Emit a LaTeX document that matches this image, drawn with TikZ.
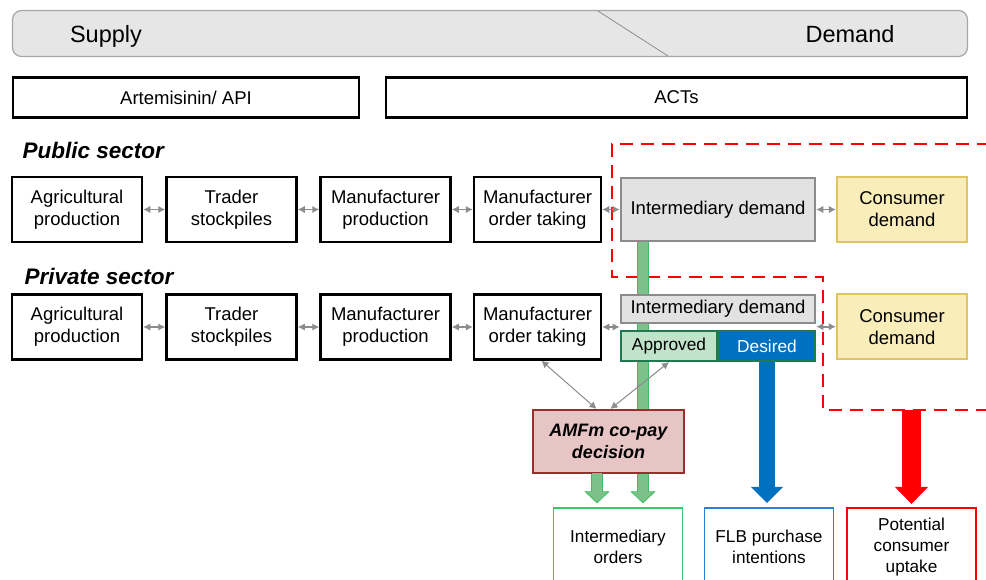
\documentclass[tikz,border=0pt]{standalone}
\usepackage{fontspec}
\setmainfont{Liberation Sans}
\usetikzlibrary{arrows.meta,positioning,backgrounds}
\definecolor{BarFill}   {HTML}{E6E6E6}
\definecolor{BarLine}   {HTML}{A6A6A6}
\definecolor{MidGrey}   {HTML}{8C8C8C}
\definecolor{DemandFill}{HTML}{E2E2E2}
\definecolor{ConsFill}  {HTML}{F9EDBA}
\definecolor{ConsLine}  {HTML}{E0C462}
\definecolor{ApprFill}  {HTML}{C1E3C9}
\definecolor{ApprLine}  {HTML}{1E7A50}
\definecolor{DesBlue}   {HTML}{0070C0}
\definecolor{CopayFill} {HTML}{E8C5C5}
\definecolor{CopayLine} {HTML}{9A2E2A}
\definecolor{GreenFill} {HTML}{7CC08A}
\definecolor{GreenLine} {HTML}{3DBE62}
\definecolor{OrderLine} {HTML}{3CC86A}
\definecolor{FlbLine}   {HTML}{2F7ED6}
\definecolor{UptakeRed} {HTML}{FF0000}

\begin{document}
\begin{tikzpicture}[x=1pt,y=-1pt,
    font=\fontsize{18.5}{22}\selectfont,
    stage/.style={draw=black,line width=2.5pt,minimum width=130pt,minimum height=65pt,align=center,inner sep=2pt},
    idbox/.style={draw=MidGrey,fill=DemandFill,line width=2.6pt,minimum width=194pt,inner sep=2pt},
    consbox/.style={draw=ConsLine,fill=ConsFill,line width=2.2pt,minimum width=130pt,minimum height=65pt,align=center,inner sep=2pt},
    tagbox/.style={line width=2.2pt,minimum width=96pt,minimum height=30pt,inner sep=1pt,font=\fontsize{17.3}{20}\selectfont},
    outbox/.style={line width=1.2pt,minimum width=129pt,minimum height=78pt,align=center,font=\fontsize{17.2}{21}\selectfont},
    link/.style={MidGrey,line width=1.8pt,{Latex[length=7pt,width=7.5pt]}-{Latex[length=7pt,width=7.5pt]}},
    sector/.style={anchor=west,font=\bfseries\itshape\fontsize{22.5}{26}\selectfont}]
  \clip (0,0) rectangle (986,579);

  % supply / demand bar
  \node[draw=BarLine,fill=BarFill,line width=1.2pt,rounded corners=9pt,minimum width=955pt,minimum height=46pt] (bar) at (490,33.5) {};
  \draw[MidGrey,line width=0.8pt] (598,11) -- (668,56);
  \node[anchor=base,font=\fontsize{23.5}{26}\selectfont] (supply) at (106,42.5) {Supply};
  \node[anchor=base,font=\fontsize{23.5}{26}\selectfont] (demand) at (850,42.5) {Demand};

  \node[stage,minimum width=346pt,minimum height=40pt] (api) at (186,97.5) {Artemisinin/ API};
  \node[stage,minimum width=581pt,minimum height=40pt] (acts) at (676.5,97.5) {ACTs};

  % public sector
  \node[sector] (pub) at (19,150) {Public sector};
  \node[stage] (agA) at (77,209.5) {Agricultural\\production};
  \node[stage] (trA) at (231.5,209.5) {Trader\\stockpiles};
  \node[stage] (mpA) at (385.5,209.5) {Manufacturer\\production};
  \node[stage,minimum width=127pt] (moA) at (537.5,209.5) {Manufacturer\\order taking};
  \node[idbox,minimum height=63pt] (idA) at (718,209.5) {Intermediary demand};
  \node[consbox] (cdA) at (902,209.5) {Consumer\\demand};

  % private sector
  \node[sector] (priv) at (21,276) {Private sector};
  \node[stage,below=50pt of agA] (agB) {Agricultural\\production};
  \node[stage,below=50pt of trA] (trB) {Trader\\stockpiles};
  \node[stage,below=50pt of mpA] (mpB) {Manufacturer\\production};
  \node[stage,minimum width=127pt,below=50pt of moA] (moB) {Manufacturer\\order taking};
  \node[idbox,minimum height=28pt] (idB) at (718,309) {Intermediary demand};
  \node[tagbox,draw=ApprLine,fill=ApprFill] (apB) at (669,346) {Approved};
  \node[tagbox,draw=ApprLine,fill=DesBlue,text=white] (deB) at (767,346) {Desired};
  \node[consbox,below=50pt of cdA] (cdB) {Consumer\\demand};

  \node[draw=CopayLine,fill=CopayFill,line width=2.2pt,minimum width=151pt,minimum height=63pt,align=center,
        font=\bfseries\itshape\fontsize{18}{22}\selectfont] (copay) at (608.5,441.5) {AMFm co-pay\\decision};

  % outcomes
  \node[outbox,draw=OrderLine] (orders) at (618,547) {Intermediary\\orders};
  \node[outbox,draw=FlbLine] (flb) at (769,547) {FLB purchase\\intentions};
  \node[outbox,draw=UptakeRed] (uptake) at (911.5,547) {Potential\\consumer\\uptake};

  \coordinate (dashend) at (990,410);

  \begin{scope}[on background layer]
    \draw[UptakeRed,line width=2.6pt,dash pattern=on 13pt off 8pt] (990,144) -| (612,277) -| (823,410) -- (dashend);
    \draw[GreenLine,line width=12.5pt,-{Triangle[length=12pt,width=25pt,line width=0.4pt]},shorten >=4pt]
      ([xshift=-75pt]idA.south) -- ([xshift=-75pt]idA.south |- orders.north);
    \draw[GreenFill,line width=10pt,-{Triangle[length=10pt,width=21pt,line width=0.4pt]},shorten >=5.5pt]
      ([xshift=-75pt]idA.south) -- ([xshift=-75pt]idA.south |- orders.north);
  \end{scope}

  \draw[GreenLine,line width=12.5pt,-{Triangle[length=12pt,width=25pt,line width=0.4pt]},shorten >=4pt]
    ([xshift=-11.5pt]copay.south) -- ([xshift=-11.5pt]copay.south |- orders.north);
  \draw[GreenFill,line width=10pt,-{Triangle[length=10pt,width=21pt,line width=0.4pt]},shorten >=5.5pt]
    ([xshift=-11.5pt,yshift=1pt]copay.south) -- ([xshift=-11.5pt]copay.south |- orders.north);
  \draw[DesBlue,line width=16pt,-{Triangle[length=16pt,width=32pt,line width=0.4pt]},shorten >=4.5pt]
    (deB.south) -- (deB.south |- flb.north);
  \draw[UptakeRed,line width=19pt,-{Triangle[length=17pt,width=33pt,line width=0.4pt]},shorten >=3.5pt]
    (uptake.north |- dashend) -- (uptake.north);

  % links
  \draw[link] (agA) -- (trA);
  \draw[link] (trA) -- (mpA);
  \draw[link] (mpA) -- (moA);
  \draw[link] (moA) -- (idA);
  \draw[link] (idA) -- (cdA);
  \draw[link] (agB) -- (trB);
  \draw[link] (trB) -- (mpB);
  \draw[link] (mpB) -- (moB);
  \draw[link] (moB.east) -- (moB.east -| idB.west);
  \draw[link] (cdB.west -| idB.east) -- (cdB.west);
  \draw[link,line width=1pt] ([xshift=4pt]moB.south) -- ([xshift=-12pt]copay.north);
  \draw[link,line width=1pt] (apB.south) -- ([xshift=2pt]copay.north);
\end{tikzpicture}
\end{document}
